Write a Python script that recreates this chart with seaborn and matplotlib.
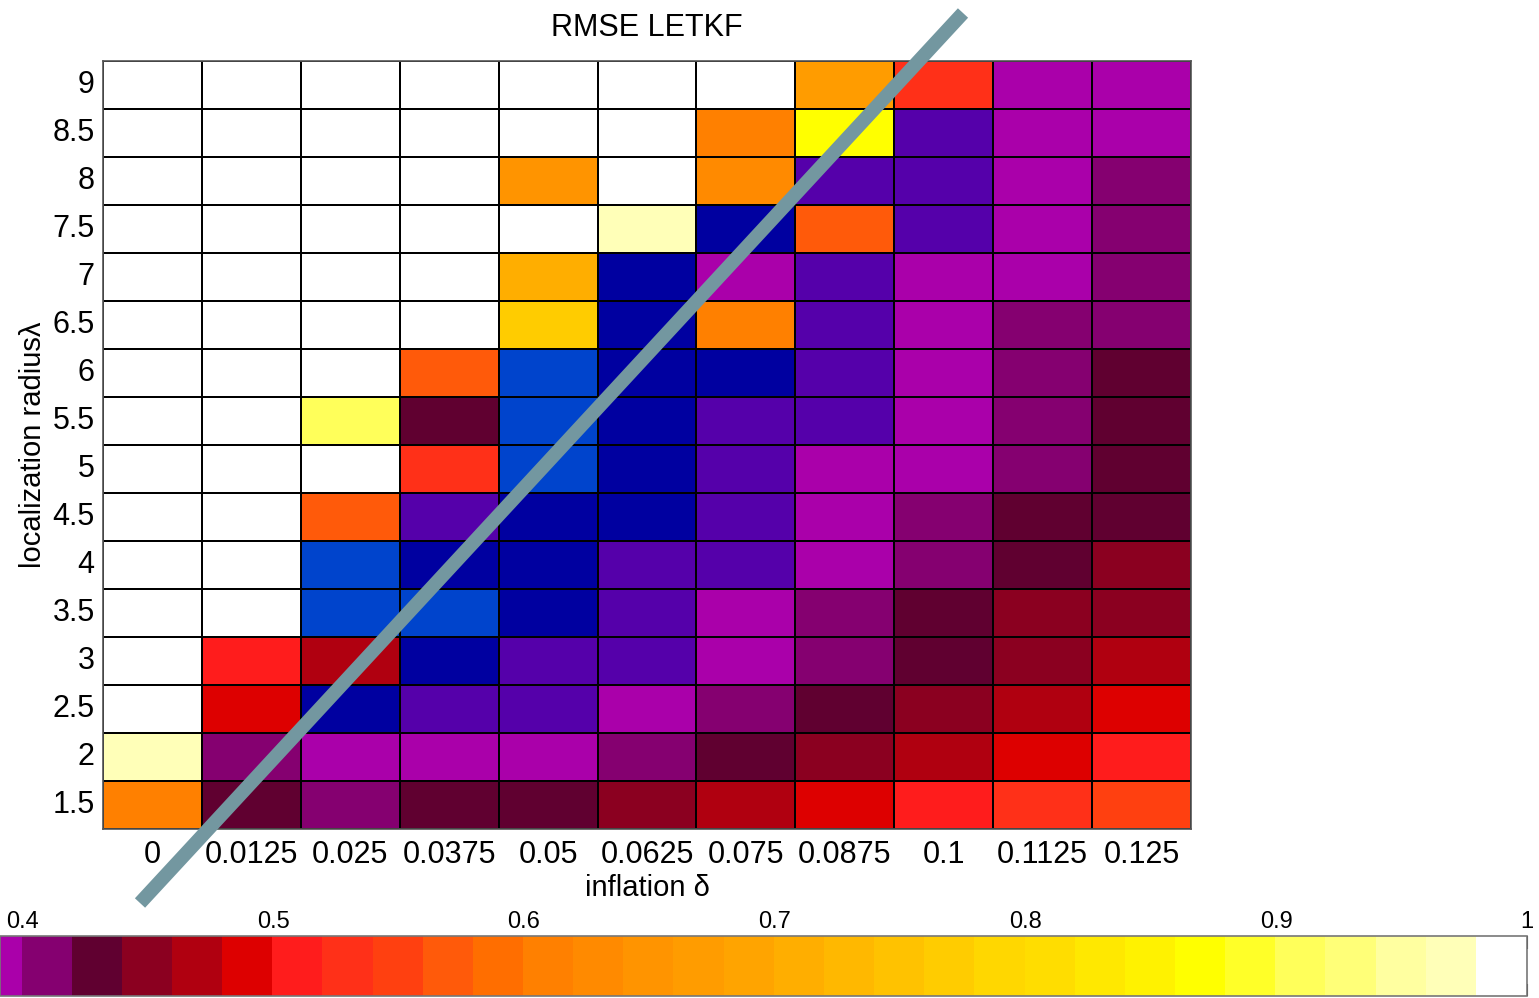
import numpy as np
import pandas as pd
import matplotlib
matplotlib.use("Agg")
import matplotlib.pyplot as plt
from matplotlib.colors import ListedColormap, BoundaryNorm
from matplotlib.lines import Line2D
import matplotlib.cm as cm
import seaborn as sns

# ---------------- data ----------------
inflation = ["0", "0.0125", "0.025", "0.0375", "0.05", "0.0625", "0.075",
             "0.0875", "0.1", "0.1125", "0.125"]
radius = ["9", "8.5", "8", "7.5", "7", "6.5", "6", "5.5", "5", "4.5",
          "4", "3.5", "3", "2.5", "2", "1.5"]

r9_0 = [1.0, 1.0, 1.0, 1.0, 1.0, 1.0, 1.0, 0.67, 0.53, 0.39, 0.39]
r8_5 = [1.0, 1.0, 1.0, 1.0, 1.0, 1.0, 0.61, 0.87, 0.37, 0.39, 0.39]
r8_0 = [1.0, 1.0, 1.0, 1.0, 0.65, 1.0, 0.63, 0.37, 0.37, 0.39, 0.41]
r7_5 = [1.0, 1.0, 1.0, 1.0, 1.0, 0.97, 0.35, 0.57, 0.37, 0.39, 0.41]
r7_0 = [1.0, 1.0, 1.0, 1.0, 0.71, 0.35, 0.39, 0.37, 0.39, 0.39, 0.41]
r6_5 = [1.0, 1.0, 1.0, 1.0, 0.77, 0.35, 0.61, 0.37, 0.39, 0.41, 0.41]
r6_0 = [1.0, 1.0, 1.0, 0.57, 0.33, 0.35, 0.35, 0.37, 0.39, 0.41, 0.43]
r5_5 = [1.0, 1.0, 0.91, 0.43, 0.33, 0.35, 0.37, 0.37, 0.39, 0.41, 0.43]
r5_0 = [1.0, 1.0, 1.0, 0.53, 0.33, 0.35, 0.37, 0.39, 0.39, 0.41, 0.43]
r4_5 = [1.0, 1.0, 0.57, 0.37, 0.35, 0.35, 0.37, 0.39, 0.41, 0.43, 0.43]
r4_0 = [1.0, 1.0, 0.33, 0.35, 0.35, 0.37, 0.37, 0.39, 0.41, 0.43, 0.45]
r3_5 = [1.0, 1.0, 0.33, 0.33, 0.35, 0.37, 0.39, 0.41, 0.43, 0.45, 0.45]
r3_0 = [1.0, 0.51, 0.47, 0.35, 0.37, 0.37, 0.39, 0.41, 0.43, 0.45, 0.47]
r2_5 = [1.0, 0.49, 0.35, 0.37, 0.37, 0.39, 0.41, 0.43, 0.45, 0.47, 0.49]
r2_0 = [0.97, 0.41, 0.39, 0.39, 0.39, 0.41, 0.43, 0.45, 0.47, 0.49, 0.51]
r1_5 = [0.61, 0.43, 0.41, 0.43, 0.43, 0.45, 0.47, 0.49, 0.51, 0.53, 0.55]

cbar_ticks = [0.4, 0.5, 0.6, 0.7, 0.8, 0.9, 1.0]
cbar_ticklabels = ["0.4", "0.5", "0.6", "0.7", "0.8", "0.9", "1"]

# ---------------- colormap ----------------
palette = ["#0044CC", "#0000A0", "#5500AA", "#AA00AA", "#850070", "#600030",
           "#8B0020", "#B00010", "#DD0000", "#FF1C1C", "#FF3018", "#FF4010",
           "#FF5A0A", "#FF6E00", "#FF8000", "#FF8A00", "#FF9400", "#FF9C00",
           "#FFA400", "#FFAE00", "#FFB800", "#FFC200", "#FFCC00", "#FFD700",
           "#FFDD00", "#FFE800", "#FFF200", "#FFFF00", "#FFFF28", "#FFFF5A",
           "#FFFF78", "#FFFFA0", "#FFFFB8", "#FFFFFF"]
bounds = np.round(np.linspace(0.32, 1.0, len(palette) + 1), 4)
cmap = ListedColormap(palette)
cmap.set_over("#FFFFFF")
norm = BoundaryNorm(bounds, cmap.N)

df = pd.DataFrame([r9_0, r8_5, r8_0, r7_5, r7_0, r6_5, r6_0, r5_5, r5_0,
                   r4_5, r4_0, r3_5, r3_0, r2_5, r2_0, r1_5],
                  index=radius, columns=inflation)

# ---------------- figure ----------------
sns.set_style("white")
plt.rcParams["font.family"] = ["Liberation Sans", "DejaVu Sans"]
plt.rcParams["text.color"] = "black"
plt.rcParams["axes.labelcolor"] = "black"
plt.rcParams["xtick.color"] = "black"
plt.rcParams["ytick.color"] = "black"

W, H = 1539, 998
fig = plt.figure(figsize=(W / 100, H / 100), dpi=100)

ax = fig.add_axes([103 / W, 1 - 829 / H, (1191 - 103) / W, (829 - 61) / H])
sns.heatmap(df, ax=ax, cmap=cmap, norm=norm, cbar=False,
            linewidths=1.2, linecolor="black")
ax.tick_params(axis="both", length=0, labelsize=22, labelcolor="black")
ax.tick_params(axis="x", pad=8)
ax.tick_params(axis="y", pad=6)
plt.setp(ax.get_yticklabels(), rotation=0)
plt.setp(ax.get_xticklabels(), rotation=0)
for s in ax.spines.values():
    s.set_visible(True)
    s.set_color("#555555")
    s.set_linewidth(1.2)
ax.set_title("RMSE LETKF", fontsize=22, pad=18, color="black")
ax.set_xlabel("inflation δ", fontsize=21, labelpad=3, color="black")
ax.set_ylabel("localization radiusλ", fontsize=21, labelpad=4, color="black")

# ---------------- colorbar ----------------
cax = fig.add_axes([0, 1 - 996 / H, 1527 / W, 60 / H])
sm = cm.ScalarMappable(norm=norm, cmap=cmap)
cb = fig.colorbar(sm, cax=cax, orientation="horizontal")
cb.solids.set_edgecolor("face")
cb.solids.set_antialiased(False)
cb.minorticks_off()
cb.set_ticks(cbar_ticks)
cb.set_ticklabels(cbar_ticklabels)
cax.set_xlim(0.391, 1.0)
cax.xaxis.set_ticks_position("both")
cax.tick_params(axis="x", which="minor", length=0)
cax.tick_params(axis="x", which="major", direction="in", length=9, width=1.5,
                color="#222222", labeltop=True, labelbottom=False,
                labelsize=17, pad=2, labelcolor="black")
cb.outline.set_edgecolor("#777777")
cb.outline.set_linewidth(1.2)

# ---------------- annotation stroke ----------------
fig.add_artist(Line2D([140 / W, 963 / W], [1 - 903 / H, 1 - 13 / H],
                      transform=fig.transFigure, color="#7397A0",
                      linewidth=10, solid_capstyle="butt", zorder=10))

fig.savefig("out.png", dpi=100)
